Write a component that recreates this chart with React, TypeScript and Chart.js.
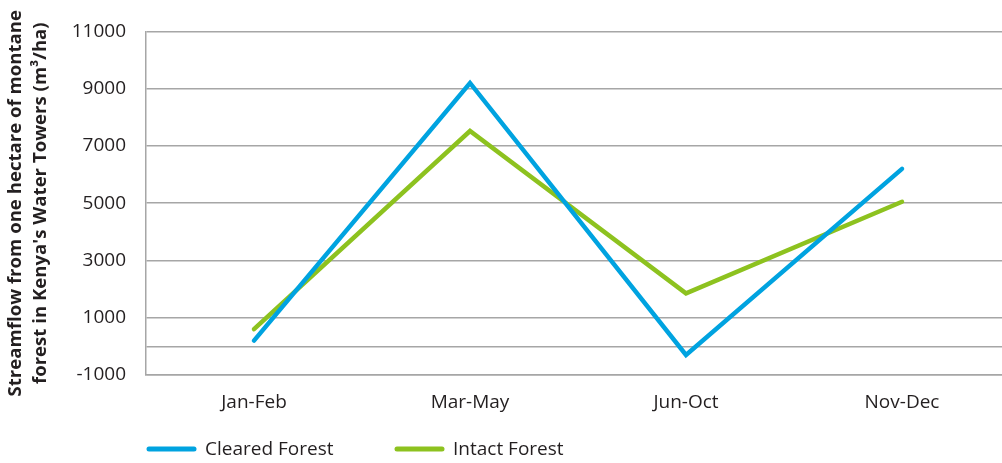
import React, { useEffect, useRef } from "react";
import { Chart, registerables } from "chart.js";

Chart.register(...registerables);

const categories = ["Jan-Feb", "Mar-May", "Jun-Oct", "Nov-Dec"];
const clearedForest = [200, 9200, -300, 6200];
const intactForest = [600, 7520, 1850, 5050];
const seriesNames = ["Cleared Forest", "Intact Forest"];
const yGridValues = [-1000, 0, 1000, 3000, 5000, 7000, 9000, 11000];
const yMin = -1000;
const yMax = 11000;
const yTitle = ["Streamflow from one hectare of montane", "forest in Kenya's Water Towers (m³/ha)"];

const BLUE = "#00a3e0";
const GREEN = "#8dc21f";
const GRID = "#a6a6a6";
const TEXT = "#231f20";
const FONT = "'Open Sans', sans-serif";

const legendPlugin = {
  id: "customLegend",
  afterDraw(chart: any) {
    const { ctx, chartArea } = chart;
    const y = chart.height - 14;
    const items = [
      { label: seriesNames[0], color: BLUE, x: chartArea.left + 3 },
      { label: seriesNames[1], color: GREEN, x: chartArea.left + 251 },
    ];
    ctx.save();
    ctx.font = `19px ${FONT}`;
    ctx.textBaseline = "middle";
    ctx.textAlign = "left";
    for (const it of items) {
      ctx.strokeStyle = it.color;
      ctx.lineWidth = 5;
      ctx.lineCap = "round";
      ctx.beginPath();
      ctx.moveTo(it.x, y);
      ctx.lineTo(it.x + 45, y);
      ctx.stroke();
      ctx.fillStyle = TEXT;
      ctx.fillText(it.label, it.x + 56, y + 1);
    }
    ctx.restore();
  },
};

export default function App() {
  const ref = useRef<HTMLCanvasElement | null>(null);
  useEffect(() => {
    if (!ref.current) return;
    const chart = new Chart(ref.current, {
      type: "line",
      data: {
        labels: categories,
        datasets: [
          {
            label: seriesNames[0],
            data: clearedForest,
            borderColor: BLUE,
            backgroundColor: BLUE,
            borderWidth: 4.5,
            pointRadius: 0,
            tension: 0,
            borderCapStyle: "round",
          },
          {
            label: seriesNames[1],
            data: intactForest,
            borderColor: GREEN,
            backgroundColor: GREEN,
            borderWidth: 4.5,
            pointRadius: 0,
            tension: 0,
            borderCapStyle: "round",
          },
        ],
      },
      options: {
        responsive: false,
        animation: false,
        layout: { padding: { top: 28, bottom: 48, left: 0, right: 0 } },
        plugins: {
          legend: { display: false },
          tooltip: { enabled: false },
        },
        scales: {
          x: {
            type: "category",
            offset: true,
            grid: { display: false },
            border: { display: true, color: GRID, width: 1.5 },
            ticks: { color: TEXT, font: { family: FONT, size: 19 }, padding: 8, maxRotation: 0 },
            afterFit(scale: any) {
              scale.height = 40;
            },
          },
          y: {
            min: yMin,
            max: yMax,
            afterBuildTicks(scale: any) {
              scale.ticks = yGridValues.map((v) => ({ value: v }));
            },
            afterFit(scale: any) {
              scale.width = 146;
            },
            grid: { color: GRID, lineWidth: 1.5, drawTicks: false },
            border: { display: true, color: GRID, width: 1.5 },
            ticks: {
              color: TEXT,
              font: { family: FONT, size: 19 },
              padding: 20,
              callback: (v: any) => (Number(v) === 0 ? "" : String(v)),
            },
            title: {
              display: true,
              text: yTitle,
              color: TEXT,
              font: { family: FONT, size: 18.6, weight: "bold", lineHeight: 1.35 },
              padding: { top: 3, bottom: 0 },
            },
          },
        },
      },
      plugins: [legendPlugin],
    });
    return () => chart.destroy();
  }, []);
  return (
    <div style={{ position: "fixed", left: 0, top: 0, width: 1002, height: 463, overflow: "hidden", background: "#fff" }}>
      <canvas ref={ref} width={1010} height={463} style={{ display: "block" }} />
    </div>
  );
}
